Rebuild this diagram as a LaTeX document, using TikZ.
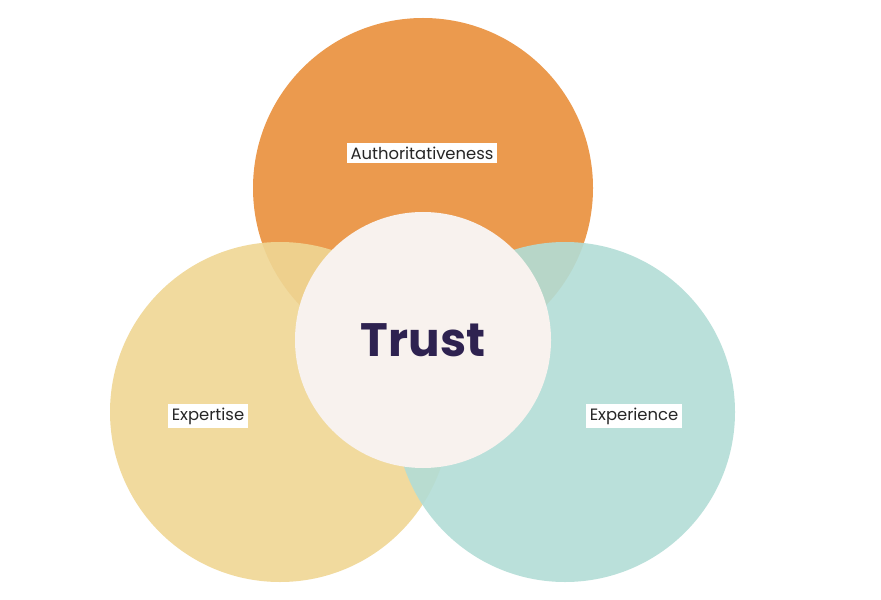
\documentclass[tikz,border=0pt]{standalone}
\usepackage{fontspec}
\setmainfont{Poppins}
\usepackage{tikz}
\definecolor{authcol}{HTML}{EB9A4E}
\definecolor{expcol}{HTML}{EFD694}
\definecolor{expercol}{HTML}{B2DDD6}
\definecolor{trustcol}{HTML}{F8F2EE}
\definecolor{inkcol}{HTML}{2E2250}
\tikzset{
  petal/.style={circle, minimum size=340*0.03cm, inner sep=0pt},
  tag/.style={fill=white, inner sep=3pt, font=\fontsize{14}{16}\selectfont, text=black!85}
}

\begin{document}
\begin{tikzpicture}[x=0.03cm, y=-0.03cm]
      \useasboundingbox (0,0) rectangle (881,600);
      \node[petal, fill=authcol] (auth) at (423,188) {};
      \node[petal, fill=expcol, opacity=0.9] (exp) at (280,412) {};
      \node[petal, fill=expercol, opacity=0.9] (exper) at (565,412) {};
      \node[circle, fill=trustcol, minimum size=256*0.03cm, inner sep=0pt,
            font=\fontsize{40}{44}\selectfont\bfseries, text=inkcol] (trust) at (423,340) {Trust};
      \node[tag] (authlabel) at (422,153) {Authoritativeness};
      \node[tag] (explabel) at (208,416) {Expertise};
      \node[tag] (experlabel) at (634,416) {Experience};
    \end{tikzpicture}
\end{document}
